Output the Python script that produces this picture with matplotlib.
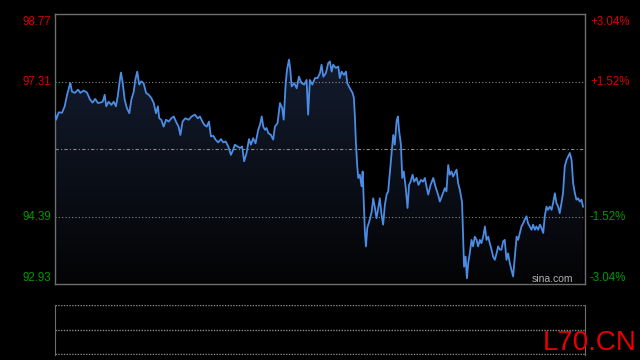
import matplotlib
matplotlib.use("Agg")
import matplotlib.pyplot as plt
import matplotlib.transforms as mtransforms
import numpy as np

# --- data (minute index, price) ---
minutes = [0, 0.5, 1.7, 3.2, 4.4, 5.5, 6.5, 7.0, 7.7, 9.0, 10.5, 11.5, 13.0, 14.5, 16.0, 17.1,
           18.3, 19.5, 20.6, 21.7, 22.6, 23.3, 24.4, 25.6, 26.7, 27.7, 28.5, 29.4, 30.0, 30.8,
           31.7, 32.7, 33.8, 34.7, 35.8, 36.5, 37.4, 38.3, 39.2, 40.3, 41.4, 42.6, 43.8, 44.9,
           45.9, 46.8, 47.4, 48.3, 49.4, 50.5, 51.7, 52.9, 54.0, 55.0, 56.2, 57.0, 58.0, 59.2,
           60.8, 62.1, 63.6, 64.9, 65.9, 67.0, 67.9, 69.0, 70.0, 70.9, 72.0, 73.0, 74.2, 75.5,
           76.5, 77.6, 78.8, 80.0, 81.0, 81.8, 83.0, 84.1, 85.1, 86.0, 87.1, 88.2, 89.1, 90.1,
           91.2, 92.4, 93.2, 94.0, 94.7, 95.5, 96.2, 97.0, 98.2, 99.2, 100.0, 101.2, 102.3, 103.3,
           104.0, 104.9, 105.5, 106.4, 107.0, 107.6, 108.8, 109.9, 110.9, 112.1, 113.3, 114.4,
           115.1, 115.9, 117.0, 118.2, 119.4, 120.5, 121.2, 122.0, 123.2, 124.2, 125.0, 125.8,
           126.5, 127.7, 128.8, 129.5, 130.3, 131.4, 132.3, 132.9, 134.1, 135.3, 135.9, 136.4,
           136.8, 137.4, 137.9, 138.6, 139.4, 139.9, 140.5, 140.9, 141.4, 142.0, 142.9, 144.0,
           144.7, 145.5, 146.2, 147.0, 147.7, 148.5, 149.2, 150.0, 150.8, 151.5, 152.3, 153.0,
           153.8, 154.5, 155.3, 155.9, 156.5, 157.3, 157.9, 158.6, 159.5, 160.3, 161.0, 161.7,
           162.6, 163.3, 164.4, 165.3, 166.4, 167.4, 168.2, 168.9, 169.7, 170.8, 172.0, 173.2,
           174.2, 175.0, 176.2, 177.3, 178.0, 178.8, 179.5, 180.3, 181.0, 181.8, 182.6, 183.3,
           184.1, 184.9, 185.1, 185.6, 186.0, 186.7, 187.3, 187.9, 188.6, 189.4, 190.1, 190.9,
           191.7, 192.4, 193.2, 193.9, 194.7, 195.5, 196.2, 197.0, 197.7, 198.5, 199.2, 200.0,
           200.8, 201.5, 202.3, 203.0, 203.8, 204.5, 205.3, 206.0, 206.8, 207.6, 208.3, 209.1,
           209.9, 210.6, 211.4, 212.1, 212.9, 213.6, 214.4, 215.1, 215.9, 216.7, 217.4, 218.2,
           218.9, 219.7, 220.5, 221.2, 222.0, 222.7, 223.5, 224.2, 225.0, 225.8, 226.5, 227.3,
           228.0, 228.8, 229.5, 230.3, 231.0, 231.8, 232.6, 233.3, 234.1, 234.9, 235.6, 236.4,
           237.1, 237.9, 238.6, 239.4, 240.1]
prices = [96.63, 96.49, 96.65, 96.64, 96.78, 97.03, 97.21, 97.28, 97.10, 97.07, 97.14, 97.07,
          97.12, 97.08, 96.92, 96.86, 96.94, 96.85, 96.86, 96.88, 97.03, 96.78, 96.88, 96.81,
          96.88, 96.78, 96.99, 97.32, 97.51, 97.28, 96.92, 96.74, 96.63, 96.92, 97.10, 97.35,
          97.53, 97.25, 97.32, 97.28, 97.07, 97.03, 96.96, 96.85, 96.63, 96.78, 96.52, 96.49,
          96.34, 96.49, 96.45, 96.52, 96.56, 96.45, 96.34, 96.16, 96.45, 96.52, 96.49, 96.56,
          96.60, 96.52, 96.56, 96.45, 96.38, 96.34, 96.45, 96.13, 96.14, 96.06, 96.00, 96.07,
          96.00, 96.02, 95.91, 95.73, 95.84, 95.95, 95.91, 95.88, 95.91, 95.59, 95.77, 96.07,
          95.95, 96.09, 95.98, 96.27, 96.38, 96.56, 96.34, 96.27, 96.31, 96.20, 96.16, 96.06,
          96.34, 96.42, 96.85, 96.74, 96.49, 97.28, 97.57, 97.79, 97.57, 97.21, 97.28, 97.17,
          97.42, 97.28, 97.25, 97.35, 96.60, 97.35, 97.25, 97.39, 97.39, 97.50, 97.68, 97.42,
          97.50, 97.71, 97.75, 97.53, 97.68, 97.61, 97.64, 97.39, 97.53, 97.46, 97.53, 97.28,
          97.17, 97.07, 96.96, 96.52, 96.02, 95.51, 95.23, 95.30, 95.05, 95.37, 94.58, 94.07,
          93.75, 94.15, 94.29, 94.50, 94.79, 94.58, 94.36, 94.58, 94.79, 94.43, 94.22, 94.65,
          94.87, 94.94, 95.37, 95.73, 96.16, 95.95, 96.45, 96.56, 96.24, 95.95, 95.23, 95.37,
          95.01, 94.58, 95.08, 95.15, 95.30, 95.15, 95.23, 95.08, 95.19, 95.15, 95.23, 95.05,
          94.87, 95.08, 95.23, 95.01, 94.87, 94.72, 94.87, 95.01, 94.94, 95.51, 95.30, 95.37,
          95.26, 95.34, 95.41, 95.12, 94.97, 94.76, 94.69, 93.89, 93.31, 93.53, 93.06, 93.39,
          93.60, 93.89, 93.75, 93.96, 93.89, 93.75, 93.89, 93.82, 93.96, 94.18, 93.89, 93.96,
          93.82, 93.68, 93.53, 93.46, 93.60, 93.75, 93.68, 93.68, 93.86, 93.89, 93.46, 93.60,
          93.39, 93.24, 93.10, 93.53, 93.96, 93.89, 94.04, 94.18, 94.25, 94.33, 94.40, 94.25,
          94.18, 94.11, 94.22, 94.11, 94.18, 94.11, 94.22, 94.15, 94.04, 94.40, 94.61, 94.54,
          94.61, 94.54, 94.69, 94.90, 94.69, 94.61, 94.47, 94.69, 94.90, 95.48, 95.62, 95.69,
          95.77, 95.62, 95.12, 94.90, 94.76, 94.79, 94.72, 94.76, 94.61]

prev_close = 95.85
price_ticks = [98.77, 97.31, 94.39, 92.93]
pct_ticks = ["+3.04%", "+1.52%", "-1.52%", "-3.04%"]
tick_colors = ["#d80000", "#d80000", "#009800", "#009800"]

W, H = 640, 360
fig = plt.figure(figsize=(6.4, 3.6), dpi=100, facecolor="black")
plt.rcParams["font.family"] = ["Liberation Sans", "DejaVu Sans"]


def px_axes(x0, y0, x1, y1):
    return fig.add_axes([x0 / W, 1 - y1 / H, (x1 - x0) / W, (y1 - y0) / H])


frame_col = "#6e6e6e"
grid_col = "#8a8a8a"

# --- main price panel ---
ax = px_axes(55, 14.3, 585, 284.3)
ax.set_facecolor("black")
ymin, ymax = price_ticks[-1], price_ticks[0]
ax.set_xlim(0, 241)
ax.set_ylim(ymin, ymax)
ax.set_xticks([])
ax.set_yticks([])
for s in ax.spines.values():
    s.set_color(frame_col)
    s.set_linewidth(1.0)

# gradient area under the line
grad = np.linspace(0, 1, 256).reshape(-1, 1)
top_c = np.array([0.085, 0.125, 0.21])
bot_c = np.array([0.015, 0.015, 0.02])
img = top_c * (1 - grad[..., None]) + bot_c * grad[..., None]
im = ax.imshow(img, extent=(0, 241, ymin, ymax), aspect="auto", origin="upper",
               zorder=1)
poly = ax.fill_between(minutes, prices, ymin, facecolor="none", edgecolor="none")
im.set_clip_path(poly.get_paths()[0], transform=ax.transData)

for p in (price_ticks[1], price_ticks[2]):
    ax.axhline(p, color=grid_col, lw=0.8, linestyle=(0, (1, 2)), zorder=2)
ax.axhline(prev_close, color=grid_col, lw=0.8, linestyle=(0, (3, 2, 1, 2)), zorder=2)

ax.plot(minutes, prices, color="#4b8ce4", lw=1.3, zorder=3)

ltrans = mtransforms.blended_transform_factory(fig.transFigure, ax.transData)
for i, (p, lab, c) in enumerate(zip(price_ticks, pct_ticks, tick_colors)):
    va = "center"
    dy = 0
    if i == 0:
        va, dy = "top", -1
    elif i == len(price_ticks) - 1:
        va, dy = "bottom", 0
    off = mtransforms.offset_copy(ltrans, fig=fig, x=0, y=dy, units="points")
    fig.text(51.5 / W, p, f"{p:.2f}", color=c, fontsize=8.3, ha="right", va=va,
             transform=off)
    fig.text(590 / W, p, lab, color=c, fontsize=8.3, ha="left", va=va, transform=off)

fig.text(573 / W, 1 - 281.5 / H, "sina.com", color="#b0b0b0", fontsize=7.5,
         ha="right", va="baseline")

# --- lower (volume) panel, empty ---
ax2 = px_axes(55, 305, 585, 354.7)
ax2.set_facecolor("black")
ax2.set_xlim(0, 1)
ax2.set_ylim(0, 2)
ax2.set_xticks([])
ax2.set_yticks([])
for k in ("top", "bottom"):
    ax2.spines[k].set_visible(False)
for k in ("left", "right"):
    ax2.spines[k].set_color(frame_col)
for yv in (0.01, 1, 1.99):
    ax2.axhline(yv, color=grid_col, lw=1.0, linestyle=(0, (1, 1)))

fig.text(637 / W, 1 - 349.5 / H, "L70.CN", color="#e80000", fontsize=20,
         ha="right", va="baseline")

fig.savefig("out.png", dpi=100, facecolor="black")
